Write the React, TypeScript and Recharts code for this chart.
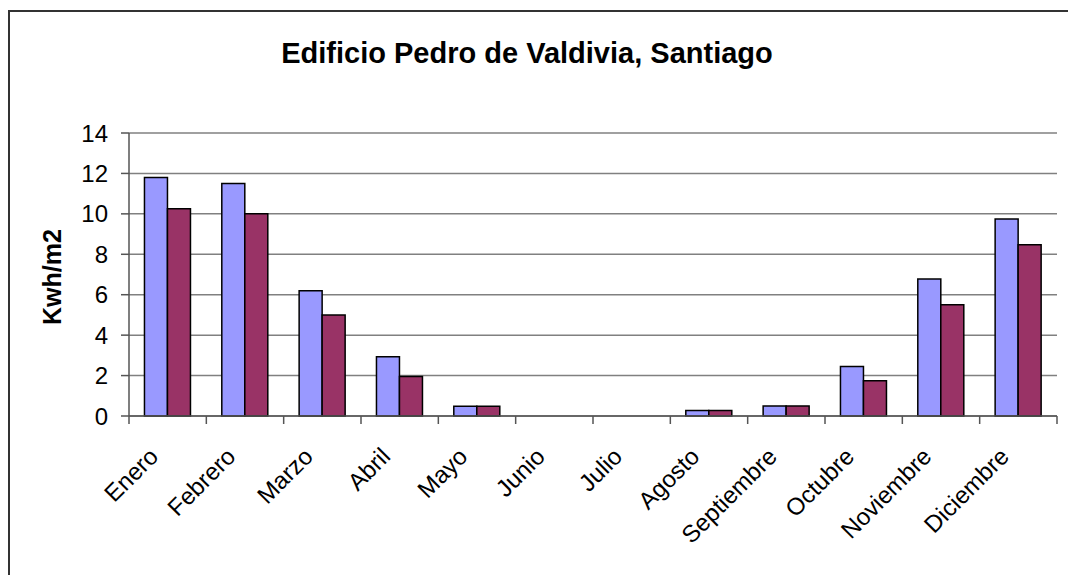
import React from 'react';
import { BarChart, Bar, XAxis, YAxis, CartesianGrid } from 'recharts';

// monthly energy per m2, two series
const MONTHS = [
    'Enero', 'Febrero', 'Marzo', 'Abril', 'Mayo', 'Junio',
    'Julio', 'Agosto', 'Septiembre', 'Octubre', 'Noviembre', 'Diciembre',
];
const SERIE_1 = [11.8, 11.5, 6.2, 2.93, 0.48, 0, 0, 0.27, 0.5, 2.45, 6.78, 9.75];
const SERIE_2 = [10.25, 10.0, 5.0, 1.95, 0.48, 0, 0, 0.27, 0.5, 1.75, 5.5, 8.47];
const Y_TICKS = [0, 2, 4, 6, 8, 10, 12, 14];

const data = MONTHS.map((m, i) => ({ month: m, s1: SERIE_1[i], s2: SERIE_2[i] }));

const W = 1060;
const H = 567;
const MARGIN = { top: 125, right: 11, bottom: 0, left: 61 };
const Y_AXIS_W = 60;
const X_AXIS_H = 159;
const PLOT_LEFT = MARGIN.left + Y_AXIS_W;
const PLOT_W = W - PLOT_LEFT - MARGIN.right;
const PLOT_BOTTOM = H - X_AXIS_H;
const BAND = PLOT_W / MONTHS.length;

const FONT = '"Liberation Sans", Arial, sans-serif';

const MonthTick = (props: any) => {
    const { x, payload } = props;
    const left = x - BAND / 2;
    const tx = x - 8;
    const ty = PLOT_BOTTOM + 42;
    const isLast = payload.value === MONTHS[MONTHS.length - 1];
    return (
        <g>
            <line x1={left} x2={left} y1={PLOT_BOTTOM} y2={PLOT_BOTTOM + 8} stroke="#555" strokeWidth={1.5} />
            {isLast && (
                <line x1={x + BAND / 2} x2={x + BAND / 2} y1={PLOT_BOTTOM} y2={PLOT_BOTTOM + 8} stroke="#555" strokeWidth={1.5} />
            )}
            <text
                x={tx}
                y={ty}
                transform={`rotate(-45, ${tx}, ${ty})`}
                textAnchor="end"
                fontSize={24}
                fontFamily={FONT}
                fill="#000"
            >
                {payload.value}
            </text>
        </g>
    );
};

export default function App() {
    return (
        // fixed so the frame can run to the window edge without scrollbars
        <div style={{ position: 'fixed', left: 8, top: 8, width: W, height: H, overflow: 'hidden', background: '#fff' }}>
            {/* only the left and top edges of the frame are in view */}
            <div
                style={{
                    position: 'absolute',
                    left: 0,
                    top: 2,
                    right: 0,
                    bottom: 0,
                    borderLeft: '2px solid #333',
                    borderTop: '2px solid #333',
                }}
            />
            <div style={{ position: 'absolute', left: 0, top: 0 }}>
                <BarChart
                    width={W}
                    height={H}
                    data={data}
                    margin={MARGIN}
                    barCategoryGap="20%"
                    barGap={0}
                >
                    <CartesianGrid vertical={false} stroke="#808080" strokeWidth={1.5} />
                    <XAxis
                        dataKey="month"
                        height={X_AXIS_H}
                        interval={0}
                        tickLine={false}
                        axisLine={{ stroke: '#555', strokeWidth: 1.5 }}
                        tick={<MonthTick />}
                    />
                    <YAxis
                        width={Y_AXIS_W}
                        domain={[0, 14]}
                        ticks={Y_TICKS}
                        interval={0}
                        tickSize={8}
                        tickMargin={13}
                        axisLine={{ stroke: '#555', strokeWidth: 1.5 }}
                        tickLine={{ stroke: '#555', strokeWidth: 1.5 }}
                        tick={{ fontSize: 24, fontFamily: FONT, fill: '#000' }}
                    />
                    <Bar dataKey="s1" name="Serie 1" fill="#9999FF" stroke="#000" strokeWidth={1.5} isAnimationActive={false} />
                    <Bar dataKey="s2" name="Serie 2" fill="#993366" stroke="#000" strokeWidth={1.5} isAnimationActive={false} />
                </BarChart>
            </div>
            <svg width={W} height={H} style={{ position: 'absolute', left: 0, top: 0, pointerEvents: 'none' }}>
                <text x={519} y={55} textAnchor="middle" fontSize={29} fontWeight="bold" fontFamily={FONT} fill="#000">
                    Edificio Pedro de Valdivia, Santiago
                </text>
                <text
                    x={53}
                    y={269}
                    transform="rotate(-90, 53, 269)"
                    textAnchor="middle"
                    fontSize={25}
                    fontWeight="bold"
                    fontFamily={FONT}
                    fill="#000"
                >
                    Kwh/m2
                </text>
            </svg>
        </div>
    );
}
